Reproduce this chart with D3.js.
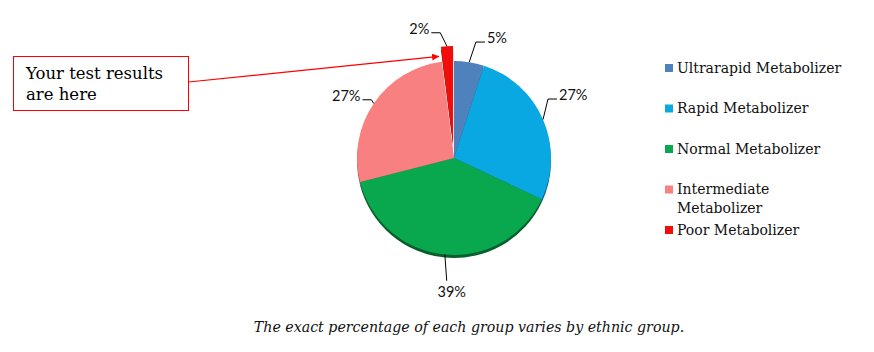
<!DOCTYPE html>
<html>
<head>
<meta charset="utf-8">
<script src="https://cdn.jsdelivr.net/npm/d3@7"></script>
<style>
  body { margin: 0; background: #fff; }
  svg { display: block; }
</style>
</head>
<body>
<svg id="chart" width="874" height="352"></svg>
<script>
// Metabolizer groups, clockwise from 12 o'clock
const categories = ["Ultrarapid Metabolizer", "Rapid Metabolizer", "Normal Metabolizer",
                    "Intermediate Metabolizer", "Poor Metabolizer"];
const values = [5, 27, 39, 27, 2];
const labels = ["5%", "27%", "39%", "27%", "2%"];
const colors = ["#4f81bd", "#0aa8e2", "#0aa84e", "#f88080", "#f20d0d"];

// which slice gets pulled out and pointed at
const highlighted = 4;
const calloutText = ["Your test results", "are here"];
const caption = "The exact percentage of each group varies by ethnic group.";

var svg = d3.select("svg#chart");
const width = +svg.attr("width"),
      height = +svg.attr("height");

const cx = 454, cy = 158, radius = 97;
const explode = 15;
const serif = "'DejaVu Serif', Georgia, serif";

// label leader nudges: [angle shift in degrees, extra radius]
const labelNudge = [[1.7, 21], [-8.7, 14], [-2, 26], [1, 4], [-3, 14]];

var pie = d3.pie().sort(null).value(d => d);
var arcs = pie(values);
var arc = d3.arc().innerRadius(0).outerRadius(radius);

function offsetOf(d, i) {
  if (i != highlighted) return [0, 0];
  const a = (d.startAngle + d.endAngle) / 2;
  return [explode * Math.sin(a), -explode * Math.cos(a)];
}

var pieg = svg.append("g").attr("transform", "translate(" + cx + "," + cy + ")");

// darker copy underneath, shifted down, for the edge shadow
pieg.append("g").attr("class", "shadow")
  .selectAll("path")
  .data(arcs)
  .enter()
  .append("path")
  .attr("d", arc)
  .attr("transform", function(d, i) {
    const o = offsetOf(d, i);
    return "translate(" + o[0] + "," + (o[1] + 3) + ")";
  })
  .style("fill", (d, i) => d3.color(colors[i]).darker(1.6));

pieg.append("g").attr("class", "slices")
  .selectAll("path")
  .data(arcs)
  .enter()
  .append("path")
  .attr("d", arc)
  .attr("transform", function(d, i) {
    const o = offsetOf(d, i);
    return "translate(" + o[0] + "," + o[1] + ")";
  })
  .style("fill", (d, i) => colors[i]);

// percentage labels with leader lines
var lblg = pieg.append("g").attr("class", "labels");
arcs.forEach(function(d, i) {
  const o = offsetOf(d, i);
  const a = (d.startAngle + d.endAngle) / 2;
  const a2 = a + labelNudge[i][0] * Math.PI / 180;
  const r2 = radius + labelNudge[i][1];
  const x0 = o[0] + radius * Math.sin(a), y0 = o[1] - radius * Math.cos(a);
  const x1 = o[0] + r2 * Math.sin(a2), y1 = o[1] - r2 * Math.cos(a2);
  const bottom = Math.cos(a) < -0.95;
  const side = Math.sin(a) >= 0 ? 1 : -1;
  const x2 = bottom ? x1 : x1 + side * 9;

  lblg.append("polyline")
    .attr("points", [[x0, y0], [x1, y1], [x2, y1]].map(p => p.join(",")).join(" "))
    .style("fill", "none")
    .style("stroke", "#000")
    .style("stroke-width", 1);

  lblg.append("text")
    .attr("x", bottom ? x1 + 5 : x2 + side * 2)
    .attr("y", bottom ? y1 + 11 : y1 - 4)
    .attr("dy", "0.35em")
    .attr("text-anchor", bottom ? "middle" : (side > 0 ? "start" : "end"))
    .style("font-family", "Lato, 'Open Sans', sans-serif")
    .style("font-size", "14.5px")
    .style("fill", "#111")
    .text(labels[i]);
});

// callout box + arrow to the highlighted slice
var defs = svg.append("defs");
defs.append("marker")
  .attr("id", "arrowhead")
  .attr("viewBox", "0 0 10 10")
  .attr("refX", 10).attr("refY", 5)
  .attr("markerWidth", 7).attr("markerHeight", 7)
  .attr("markerUnits", "userSpaceOnUse")
  .attr("orient", "auto")
  .append("path")
  .attr("d", "M0,0 L10,5 L0,10 Z")
  .style("fill", "#f00");

const box = {x: 13, y: 56, w: 175, h: 54};
var callout = svg.append("g").attr("class", "callout");
callout.append("rect")
  .attr("x", box.x + 0.5).attr("y", box.y + 0.5)
  .attr("width", box.w).attr("height", box.h)
  .style("fill", "#fff")
  .style("stroke", "#f00")
  .style("stroke-width", 1);
callout.selectAll("text")
  .data(calloutText)
  .enter()
  .append("text")
  .attr("x", box.x + 13)
  .attr("y", (d, i) => box.y + 23 + i * 21)
  .style("font-family", serif)
  .style("font-size", "16.5px")
  .style("fill", "#000")
  .text(d => d);

// arrow ends just left of the exploded slice's outer corner
const hl = arcs[highlighted], ho = offsetOf(hl, highlighted);
const tipR = radius * 0.9;
const tipX = cx + ho[0] + tipR * Math.sin(hl.startAngle) - 3,
      tipY = cy + ho[1] - tipR * Math.cos(hl.startAngle);
callout.append("line")
  .attr("x1", box.x + box.w + 0.5).attr("y1", box.y + 26)
  .attr("x2", tipX).attr("y2", tipY)
  .style("stroke", "#f00")
  .style("stroke-width", 1.2)
  .attr("marker-end", "url(#arrowhead)");

// legend
var legend = svg.append("g").attr("class", "legend")
  .attr("transform", "translate(665,0)");
var rows = legend.selectAll("g")
  .data(categories)
  .enter()
  .append("g")
  .attr("transform", (d, i) => "translate(0," + (68 + i * 40.5) + ")");
rows.append("rect")
  .attr("x", 0).attr("y", -4)
  .attr("width", 8).attr("height", 8)
  .style("fill", (d, i) => colors[i]);
rows.append("text")
  .attr("x", 12)
  .style("font-family", serif)
  .style("font-size", "14px")
  .style("fill", "#111")
  .each(function(d) {
    // wrap long names onto a second line
    const t = d3.select(this);
    const words = d.split(" ");
    let line = [];
    let tspan = t.append("tspan").attr("x", 12).attr("dy", "0.35em");
    words.forEach(function(w) {
      line.push(w);
      tspan.text(line.join(" "));
      if (tspan.node().getComputedTextLength() > 165 && line.length > 1) {
        line.pop();
        tspan.text(line.join(" "));
        line = [w];
        tspan = t.append("tspan").attr("x", 12).attr("dy", "1.3em").text(w);
      }
    });
  });

// caption
svg.append("text")
  .attr("x", 469)
  .attr("y", 332)
  .attr("text-anchor", "middle")
  .style("font-family", serif)
  .style("font-style", "italic")
  .style("font-size", "14.2px")
  .style("fill", "#111")
  .text(caption);
</script>
</body>
</html>
